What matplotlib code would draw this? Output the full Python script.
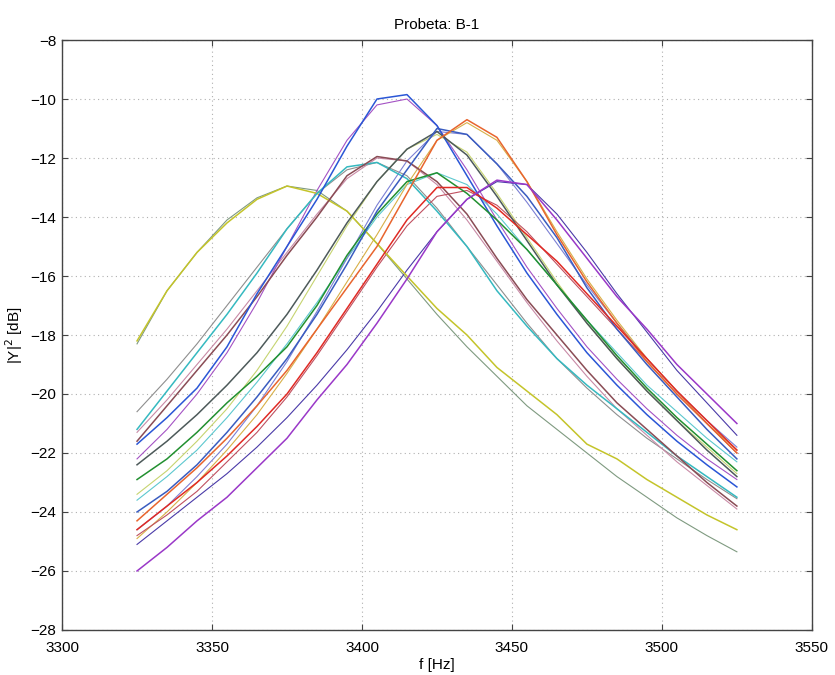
import matplotlib
matplotlib.use("Agg")
import matplotlib.pyplot as plt

plt.rcParams['font.family'] = ['Liberation Sans', 'DejaVu Sans']

freq = [3325, 3335, 3345, 3355, 3365, 3375, 3385, 3395, 3405, 3415, 3425,
        3435, 3445, 3455, 3465, 3475, 3485, 3495, 3505, 3515, 3525]

# measured curves
yellow = [-18.2, -16.5, -15.2, -14.2, -13.4, -12.95, -13.2, -13.8, -14.9, -16.0, -17.1,
          -18.0, -19.1, -19.9, -20.7, -21.7, -22.2, -22.9, -23.5, -24.1, -24.6]
cyan = [-21.2, -19.9, -18.6, -17.3, -15.9, -14.4, -13.2, -12.3, -12.15, -12.7, -13.8,
        -15.0, -16.5, -17.7, -18.8, -19.7, -20.5, -21.3, -22.1, -22.8, -23.5]
brown = [-21.6, -20.4, -19.2, -18.0, -16.7, -15.3, -14.0, -12.6, -11.95, -12.1, -12.8,
         -13.9, -15.4, -16.8, -18.0, -19.2, -20.3, -21.2, -22.1, -23.0, -23.8]
royal = [-21.7, -20.8, -19.8, -18.4, -16.6, -15.0, -13.4, -11.6, -10.0, -9.85, -10.9,
         -12.6, -14.3, -15.9, -17.3, -18.6, -19.7, -20.7, -21.6, -22.4, -23.15]
gray = [-22.4, -21.6, -20.7, -19.7, -18.6, -17.3, -15.8, -14.2, -12.8, -11.7, -11.1,
        -11.9, -13.3, -14.8, -16.3, -17.6, -18.8, -19.9, -20.9, -21.9, -22.8]
green = [-22.9, -22.2, -21.3, -20.3, -19.4, -18.4, -17.0, -15.3, -13.9, -12.8, -12.5,
         -13.2, -14.1, -15.1, -16.3, -17.5, -18.7, -19.8, -20.8, -21.7, -22.6]
steel = [-24.0, -23.3, -22.4, -21.3, -20.1, -18.8, -17.3, -15.6, -13.8, -12.4, -11.0,
         -11.2, -12.2, -13.3, -14.7, -16.4, -17.8, -19.0, -20.1, -21.2, -22.2]
orange = [-24.3, -23.4, -22.5, -21.5, -20.4, -19.2, -17.8, -16.4, -15.0, -13.2, -11.4,
          -10.7, -11.3, -12.8, -14.6, -16.2, -17.6, -18.9, -20.0, -21.0, -22.0]
red = [-24.6, -23.8, -23.0, -22.1, -21.1, -20.0, -18.6, -17.1, -15.6, -14.1, -13.0,
       -13.0, -13.7, -14.6, -15.5, -16.6, -17.7, -18.8, -19.9, -20.9, -21.9]
purple = [-26.0, -25.2, -24.3, -23.5, -22.5, -21.5, -20.2, -19.0, -17.6, -16.1, -14.5,
          -13.4, -12.75, -12.9, -14.1, -15.4, -16.7, -17.8, -19.0, -20.0, -21.0]

# fitted curves
fit_yellow = [-18.3, -16.5, -15.2, -14.1, -13.35, -12.95, -13.1, -13.8, -14.9, -16.1, -17.3,
              -18.4, -19.4, -20.4, -21.2, -22.0, -22.8, -23.5, -24.2, -24.8, -25.35]
fit_cyan = [-20.6, -19.5, -18.3, -17.0, -15.7, -14.4, -13.2, -12.4, -12.15, -12.6, -13.7,
            -15.0, -16.3, -17.6, -18.8, -19.8, -20.7, -21.5, -22.2, -22.9, -23.55]
fit_brown = [-21.3, -20.2, -19.0, -17.8, -16.5, -15.2, -13.9, -12.7, -12.0, -12.1, -12.9,
             -14.1, -15.5, -16.9, -18.2, -19.4, -20.5, -21.4, -22.3, -23.1, -23.9]
fit_royal = [-22.2, -21.2, -20.0, -18.6, -16.9, -15.0, -13.1, -11.4, -10.2, -10.0, -10.9,
             -12.4, -14.1, -15.7, -17.1, -18.4, -19.5, -20.5, -21.4, -22.2, -22.9]
fit_gray = [-23.4, -22.6, -21.6, -20.5, -19.2, -17.7, -16.0, -14.3, -12.8, -11.7, -11.2,
            -11.8, -13.2, -14.7, -16.2, -17.6, -18.8, -19.9, -20.9, -21.8, -22.7]
fit_green = [-23.6, -22.8, -21.9, -20.8, -19.6, -18.3, -16.9, -15.4, -14.0, -12.9, -12.5,
             -12.9, -13.9, -15.1, -16.3, -17.5, -18.6, -19.7, -20.6, -21.5, -22.3]
fit_steel = [-24.6, -23.8, -22.8, -21.7, -20.4, -18.9, -17.2, -15.4, -13.6, -12.1, -11.1,
             -11.2, -12.2, -13.5, -14.9, -16.3, -17.6, -18.8, -19.9, -20.9, -21.8]
fit_orange = [-24.9, -24.0, -23.0, -21.9, -20.7, -19.3, -17.8, -16.2, -14.6, -12.9, -11.4,
              -10.8, -11.4, -12.8, -14.5, -16.1, -17.5, -18.8, -19.9, -21.0, -21.9]
fit_red = [-24.8, -24.1, -23.3, -22.3, -21.3, -20.1, -18.7, -17.2, -15.7, -14.3, -13.3,
           -13.1, -13.6, -14.5, -15.6, -16.7, -17.8, -18.9, -20.0, -21.0, -22.0]
fit_purple = [-25.1, -24.3, -23.5, -22.7, -21.8, -20.8, -19.7, -18.5, -17.2, -15.8, -14.5,
              -13.4, -12.8, -12.9, -13.9, -15.2, -16.6, -17.9, -19.2, -20.3, -21.4]

measured = [
    (yellow, '#c4c42a'), (cyan, '#35b9c0'), (brown, '#8a4c55'), (royal, '#2a56d6'),
    (gray, '#4d5a5a'), (green, '#229030'), (steel, '#3a5cc0'), (orange, '#e8652e'),
    (red, '#e02a24'), (purple, '#9a38c8'),
]
fitted = [
    (fit_yellow, '#7f9a80'), (fit_cyan, '#8e8e8e'), (fit_brown, '#c98aa6'),
    (fit_royal, '#a452c4'), (fit_gray, '#c6d470'), (fit_green, '#5cc8cf'),
    (fit_steel, '#7c80d4'), (fit_orange, '#d8b048'), (fit_red, '#c05060'),
    (fit_purple, '#4a3aa8'),
]

fig = plt.figure(figsize=(8.35, 6.75), dpi=100)
ax = fig.add_axes([0.0743, 0.0667, 0.898, 0.874])

for vals, col in fitted:
    ax.plot(freq, vals, color=col, lw=0.8, zorder=2)
for vals, col in measured:
    ax.plot(freq, vals, color=col, lw=1.1, zorder=3)

ax.set_xlim(3300, 3550)
ax.set_ylim(-28, -8)
ax.set_xticks([3300, 3350, 3400, 3450, 3500, 3550])
ax.set_yticks(list(range(-28, -7, 2)))
ax.grid(True, color='#b0b0b0', linestyle=(0, (1, 3)), linewidth=0.8)
ax.tick_params(direction='in', top=True, right=True, labelsize=11, length=4, color='#444444')
ax.tick_params(axis='x', pad=8)
ax.tick_params(axis='y', pad=4)
for s in ax.spines.values():
    s.set_color('#444444')
    s.set_linewidth(1.0)

ax.set_title('Probeta: B-1', fontsize=11, pad=8)
ax.set_xlabel('f [Hz]', fontsize=11, labelpad=2)
ax.set_ylabel('|Y|$^2$ [dB]', fontsize=11, labelpad=4)

fig.savefig('out.png', dpi=100)
